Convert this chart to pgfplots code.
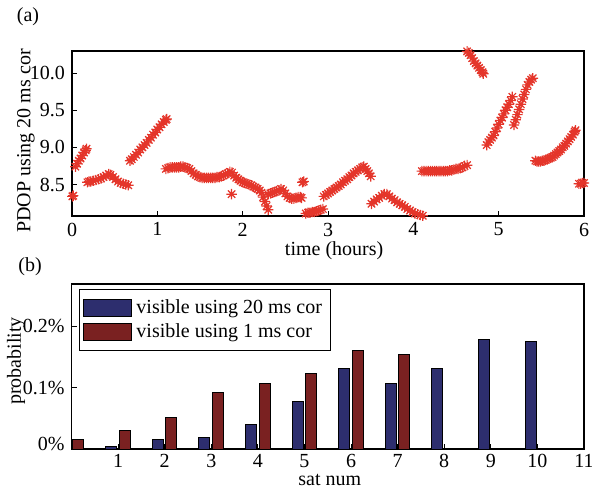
\documentclass[border=0pt]{standalone}
\usepackage{fontspec}
\setmainfont{Liberation Serif}
\usepackage{pgfplots}
\usepackage{pgfplotstable}
\pgfplotsset{compat=1.18}
\definecolor{ptred}{HTML}{E4352A}
\definecolor{barblue}{HTML}{2D2E6E}
\definecolor{barred}{HTML}{7A2121}

% matlab-like 8-arm asterisk
\pgfdeclareplotmark{mstar}{%
  \pgfpathmoveto{\pgfqpoint{-\pgfplotmarksize}{0pt}}%
  \pgfpathlineto{\pgfqpoint{\pgfplotmarksize}{0pt}}%
  \pgfpathmoveto{\pgfqpoint{0pt}{-\pgfplotmarksize}}%
  \pgfpathlineto{\pgfqpoint{0pt}{\pgfplotmarksize}}%
  \pgfpathmoveto{\pgfqpoint{-0.707\pgfplotmarksize}{-0.707\pgfplotmarksize}}%
  \pgfpathlineto{\pgfqpoint{0.707\pgfplotmarksize}{0.707\pgfplotmarksize}}%
  \pgfpathmoveto{\pgfqpoint{-0.707\pgfplotmarksize}{0.707\pgfplotmarksize}}%
  \pgfpathlineto{\pgfqpoint{0.707\pgfplotmarksize}{-0.707\pgfplotmarksize}}%
  \pgfusepathqstroke}

\pgfplotstableread{
n  blue   red
0  0      0.015
1  0.004  0.030
2  0.015  0.052
3  0.019  0.092
4  0.040  0.106
5  0.078  0.123
6  0.132  0.160
7  0.106  0.154
8  0.132  0
9  0.179  0
10 0.176  0
11 0      0
}\satdata

\pgfplotsset{
  mstyle/.style={
    scale only axis,
    axis line style={line width=0.9pt},
    tick style={black, line width=0.5pt},
    tick align=inside,
    tick pos=left,
    major tick length=2.5pt,
    /pgf/number format/assume math mode=true,
    tick label style={font=\normalsize},
    label style={font=\normalsize, inner sep=0pt},
  }
}

\begin{document}
\begin{tikzpicture}
\useasboundingbox (0pt,0pt) rectangle (296pt,-244pt);
\node at (14pt,-8.5pt) {(a)};
\node at (15pt,-133.5pt) {(b)};

\begin{axis}[
  mstyle,
  at={(36pt,-107.85pt)}, anchor=south west,
  width=256pt, height=82.5pt,
  xmin=0, xmax=6, ymin=8.08, ymax=10.3,
  xtick={0,...,6},
  ytick={8.5,9,9.5,10},
  yticklabel style={/pgf/number format/.cd, fixed, fixed zerofill, precision=1},
  xlabel={time (hours)},
  ylabel={PDOP using 20 ms cor},
  xlabel style={at={(axis description cs:0.512,-0.215)}, anchor=center},
  ylabel style={at={(axis description cs:-0.09,0.453)}, anchor=center},
  clip=false,
]
\addplot[only marks, mark=mstar, mark size=2.6pt, color=ptred, line width=0.6pt] coordinates {
(0.005,8.34) (0.015,8.35)
(0.04,8.74) (0.06,8.78) (0.08,8.82) (0.10,8.85) (0.12,8.89) (0.14,8.93) (0.16,8.96) (0.17,8.98)
(0.18,8.53) (0.20,8.54) (0.22,8.54) (0.25,8.55) (0.28,8.56) (0.31,8.57) (0.34,8.58) (0.37,8.60)
(0.40,8.62) (0.43,8.64) (0.45,8.63) (0.48,8.60) (0.51,8.57) (0.54,8.54) (0.57,8.52) (0.60,8.51)
(0.63,8.50) (0.66,8.49)
(0.68,8.82) (0.70,8.84) (0.725,8.87) (0.75,8.90) (0.775,8.93) (0.80,8.97) (0.825,9.00) (0.85,9.03)
(0.875,9.06) (0.90,9.10) (0.925,9.13) (0.95,9.17) (0.975,9.20) (1.00,9.24) (1.025,9.27) (1.05,9.31)
(1.075,9.34) (1.10,9.37) (1.11,9.38)
(1.10,8.71) (1.125,8.72) (1.15,8.73) (1.175,8.73) (1.20,8.73) (1.225,8.73) (1.25,8.73) (1.275,8.74)
(1.30,8.74) (1.325,8.73) (1.35,8.72) (1.375,8.71) (1.40,8.68) (1.425,8.65) (1.45,8.63) (1.475,8.61)
(1.50,8.60) (1.525,8.59) (1.55,8.59) (1.575,8.59) (1.60,8.59) (1.625,8.59) (1.65,8.59) (1.675,8.59)
(1.70,8.60) (1.725,8.60) (1.75,8.61) (1.775,8.62) (1.80,8.64) (1.825,8.65) (1.85,8.67) (1.875,8.66)
(1.90,8.62) (1.925,8.59) (1.95,8.57) (1.975,8.55) (2.00,8.53) (2.025,8.52) (2.05,8.51) (2.075,8.50)
(2.10,8.49) (2.125,8.47) (2.15,8.46) (2.175,8.44) (2.20,8.42) (2.22,8.39) (2.24,8.33) (2.26,8.27)
(2.28,8.21) (2.30,8.16)
(1.87,8.37)
(2.30,8.37) (2.325,8.38) (2.35,8.39) (2.375,8.40) (2.40,8.41) (2.425,8.42) (2.45,8.44) (2.475,8.42)
(2.50,8.38) (2.525,8.34) (2.55,8.32) (2.575,8.31) (2.60,8.31) (2.625,8.32) (2.65,8.33) (2.675,8.33)
(2.69,8.32)
(2.70,8.53) (2.715,8.54)
(2.74,8.11) (2.765,8.12) (2.79,8.12) (2.815,8.13) (2.84,8.13) (2.865,8.14) (2.89,8.15) (2.915,8.16)
(2.94,8.17)
(2.95,8.34) (2.975,8.36) (3.00,8.38) (3.025,8.40) (3.05,8.42) (3.075,8.44) (3.10,8.46) (3.125,8.48)
(3.15,8.50) (3.175,8.53) (3.20,8.55) (3.225,8.57) (3.25,8.60) (3.275,8.62) (3.30,8.65) (3.325,8.67)
(3.35,8.69) (3.375,8.71) (3.40,8.73) (3.42,8.74) (3.44,8.71) (3.46,8.68) (3.48,8.65) (3.50,8.61)
(3.51,8.24) (3.54,8.27) (3.57,8.30) (3.60,8.32) (3.63,8.35) (3.66,8.37) (3.69,8.37) (3.72,8.34)
(3.75,8.31) (3.78,8.29) (3.81,8.26) (3.84,8.24) (3.87,8.22) (3.90,8.20) (3.93,8.17) (3.96,8.15)
(3.99,8.13) (4.02,8.11) (4.05,8.10) (4.08,8.09) (4.11,8.08)
(4.10,8.68) (4.125,8.68) (4.15,8.68) (4.175,8.68) (4.20,8.68) (4.225,8.68) (4.25,8.68) (4.275,8.68)
(4.30,8.68) (4.325,8.68) (4.35,8.68) (4.375,8.68) (4.40,8.68) (4.425,8.69) (4.45,8.69) (4.475,8.70)
(4.50,8.71) (4.525,8.71) (4.55,8.72) (4.575,8.73) (4.60,8.75) (4.63,8.76)
(4.63,10.29) (4.65,10.27) (4.67,10.24) (4.69,10.20) (4.71,10.16) (4.73,10.13) (4.75,10.10) (4.77,10.07)
(4.79,10.04) (4.81,10.01) (4.82,9.99)
(4.86,9.03) (4.88,9.07) (4.90,9.10) (4.92,9.13) (4.94,9.16) (4.96,9.21) (4.98,9.26) (5.00,9.31)
(5.02,9.36) (5.04,9.40) (5.06,9.45) (5.08,9.50) (5.10,9.54) (5.12,9.58) (5.14,9.63) (5.16,9.68)
(5.18,9.30) (5.20,9.37) (5.22,9.44) (5.24,9.51) (5.26,9.58) (5.28,9.65) (5.30,9.71) (5.32,9.78)
(5.34,9.84) (5.36,9.88) (5.38,9.91) (5.40,9.93)
(5.43,8.82) (5.45,8.81) (5.47,8.81) (5.49,8.81) (5.51,8.82) (5.53,8.82) (5.55,8.83) (5.57,8.84)
(5.59,8.85) (5.61,8.86) (5.63,8.87) (5.65,8.89) (5.67,8.91) (5.69,8.93) (5.71,8.95) (5.73,8.97)
(5.75,9.00) (5.77,9.02) (5.79,9.05) (5.81,9.08) (5.83,9.11) (5.85,9.14) (5.87,9.17) (5.89,9.21)
(5.90,9.23)
(5.94,8.51) (5.96,8.51) (5.98,8.52) (6.00,8.52)
};
\end{axis}

\begin{axis}[
  mstyle,
  at={(35.75pt,-224.5pt)}, anchor=south west,
  width=256.25pt, height=82.5pt,
  xmin=0, xmax=11, ymin=0, ymax=0.269,
  xtick={1,...,11},
  xticklabel style={yshift=1pt},
  ytick={0.1,0.2},
  yticklabels={0.1\%,0.2\%},
  extra y ticks={0.009},
  extra y tick labels={0\%},
  extra y tick style={major tick length=0pt},
  xlabel={sat num},
  ylabel={probability},
  xlabel style={at={(axis description cs:0.504,-0.188)}, anchor=center},
  ylabel style={at={(axis description cs:-0.108,0.533)}, anchor=center},
  legend cell align=left,
  legend style={at={(0.0146,0.97)}, anchor=north west, draw=black, line width=0.5pt,
    font=\normalsize, inner xsep=2pt, inner ysep=3pt, row sep=-0.5pt},
  legend image code/.code={\draw[#1, draw=black, line width=0.5pt] (0pt,-4.25pt) rectangle (24pt,4.25pt);},
]
\addplot[ybar, bar width=0.236, bar shift=-0.146, fill=barblue, draw=black, line width=0.5pt] table[x=n, y=blue] {\satdata};
\addlegendentry{visible using 20 ms cor}
\addplot[ybar, bar width=0.236, bar shift=0.146, fill=barred, draw=black, line width=0.5pt] table[x=n, y=red] {\satdata};
\addlegendentry{visible using 1 ms cor}
\end{axis}
\end{tikzpicture}
\end{document}
